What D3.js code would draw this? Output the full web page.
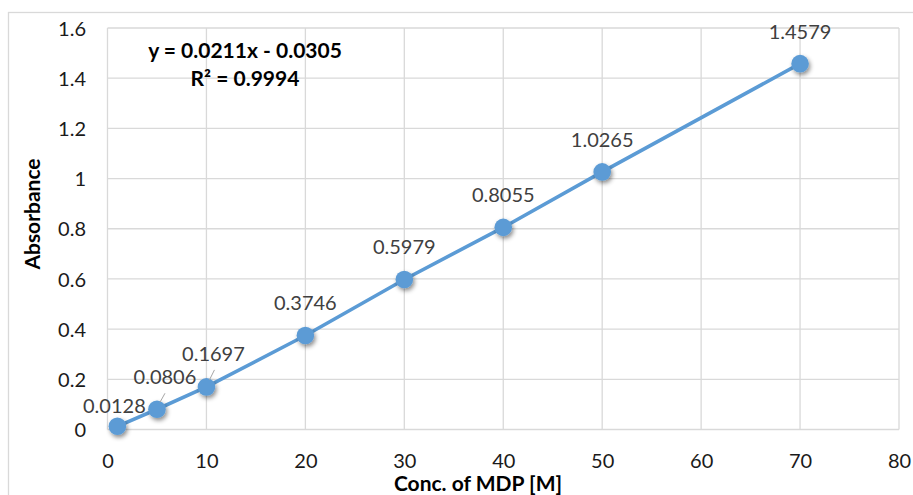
<!DOCTYPE html>
<html>
<head>
<meta charset="utf-8">
<script src="https://cdn.jsdelivr.net/npm/d3@7"></script>
<style>
html,body{margin:0;padding:0;background:#fff;}
svg{display:block;font-family:Lato, "Open Sans", sans-serif;}
</style>
</head>
<body>
<svg id="chart" width="913" height="495"></svg>
<script>
// Data
const concentrations = [1, 5, 10, 20, 30, 40, 50, 70];
const absorbance = [0.0128, 0.0806, 0.1697, 0.3746, 0.5979, 0.8055, 1.0265, 1.4579];
const dataLabels = ["0.0128", "0.0806", "0.1697", "0.3746", "0.5979", "0.8055", "1.0265", "1.4579"];
const xTicks = [0, 10, 20, 30, 40, 50, 60, 70, 80];
const yTicks = [0, 0.2, 0.4, 0.6, 0.8, 1, 1.2, 1.4, 1.6];
const yTickLabels = ["0", "0.2", "0.4", "0.6", "0.8", "1", "1.2", "1.4", "1.6"];
const equationText = "y = 0.0211x - 0.0305";
const r2Text = "R² = 0.9994";
const xTitle = "Conc. of MDP [M]";
const yTitle = "Absorbance";

const svg = d3.select("#chart");
const x = d3.scaleLinear().domain([0, 80]).range([107.5, 899]);
const y = d3.scaleLinear().domain([0, 1.6]).range([429.5, 28]);

// Shadow filter
const defs = svg.append("defs");
const f = defs.append("filter").attr("id", "shadow").attr("x", "-50%").attr("y", "-50%").attr("width", "200%").attr("height", "200%");
f.append("feDropShadow").attr("dx", 1.5).attr("dy", 2.5).attr("stdDeviation", 2.2).attr("flood-color", "#000").attr("flood-opacity", 0.45);

// Outer chart border
svg.append("rect").attr("x", 8.5).attr("y", 12.5).attr("width", 920).attr("height", 500)
  .attr("fill", "none").attr("stroke", "#d9d9d9").attr("stroke-width", 1.3);

// Gridlines
const grid = svg.append("g");
grid.selectAll("line.h").data(yTicks).join("line")
  .attr("x1", x(0)).attr("x2", x(80)).attr("y1", d => y(d)).attr("y2", d => y(d))
  .attr("stroke", "#d9d9d9").attr("stroke-width", 1.3);
grid.selectAll("line.v").data(xTicks).join("line")
  .attr("y1", y(0)).attr("y2", y(1.6)).attr("x1", d => x(d)).attr("x2", d => x(d))
  .attr("stroke", "#d9d9d9").attr("stroke-width", 1.3);

// Axes (labels only)
const xAxis = d3.axisBottom(x).tickValues(xTicks).tickSize(0).tickPadding(0).tickFormat(d3.format("d"));
const gx = svg.append("g").attr("transform", `translate(0,${y(0)})`).call(xAxis);
gx.select(".domain").remove();
gx.selectAll("text").attr("dy", null).attr("y", 38).attr("font-size", 20).attr("fill", "#1a1a1a").attr("font-family", "Lato");

const yAxis = d3.axisLeft(y).tickValues(yTicks).tickSize(0).tickPadding(0).tickFormat((d, i) => yTickLabels[i]);
const gy = svg.append("g").attr("transform", `translate(86,0)`).call(yAxis);
gy.select(".domain").remove();
gy.selectAll("text").attr("dy", "0.36em").attr("font-size", 20).attr("fill", "#1a1a1a").attr("font-family", "Lato");

// Series line
const pts = concentrations.map((c, i) => [c, absorbance[i]]);
svg.append("path").datum(pts)
  .attr("d", d3.line().x(d => x(d[0])).y(d => y(d[1])))
  .attr("fill", "none").attr("stroke", "#5b9bd5").attr("stroke-width", 3.6).attr("stroke-linecap", "round");

// Markers
svg.append("g").selectAll("circle").data(pts).join("circle")
  .attr("cx", d => x(d[0])).attr("cy", d => y(d[1])).attr("r", 8.8)
  .attr("fill", "#5b9bd5").attr("filter", "url(#shadow)");

// Data labels
const labelShift = {0: [-3, -13], 1: [8, -25], 2: [7, -26]};
const lg = svg.append("g");
pts.forEach((d, i) => {
  const px = x(d[0]), py = y(d[1]);
  const s = labelShift[i] || [0, -25];
  lg.append("text").attr("x", px + s[0]).attr("y", py + s[1])
    .attr("text-anchor", "middle").attr("font-size", 20).attr("fill", "#404040")
    .text(dataLabels[i]);
  if (i === 1 || i === 2) {
    lg.append("line").attr("x1", px + 8).attr("y1", py + s[1] + 9).attr("x2", px + 3).attr("y2", py - 7)
      .attr("stroke", "#a6a6a6").attr("stroke-width", 1);
  }
});

// Equation
svg.append("text").attr("x", 245).attr("y", 58).attr("text-anchor", "middle")
  .attr("font-size", 21).attr("font-weight", "bold").attr("fill", "#000").text(equationText);
svg.append("text").attr("x", 245).attr("y", 86).attr("text-anchor", "middle")
  .attr("font-size", 21).attr("font-weight", "bold").attr("fill", "#000").text(r2Text);

// Axis titles
svg.append("text").attr("x", 478).attr("y", 491).attr("text-anchor", "middle")
  .attr("font-size", 21).attr("font-weight", "bold").attr("fill", "#000").text(xTitle);
svg.append("text").attr("transform", `translate(40,${214}) rotate(-90)`).attr("text-anchor", "middle")
  .attr("font-size", 21).attr("font-weight", "bold").attr("fill", "#000").text(yTitle);
</script>
</body>
</html>
